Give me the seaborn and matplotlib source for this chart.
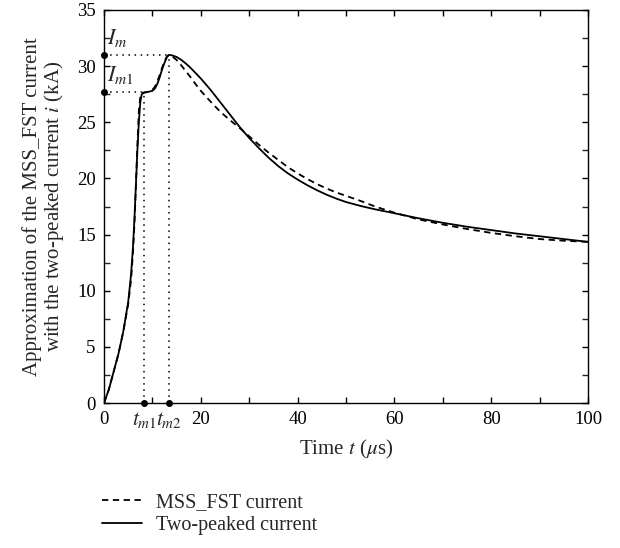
import numpy as np
import pandas as pd
import seaborn as sns
import matplotlib
matplotlib.use("Agg")
import matplotlib.pyplot as plt
from matplotlib.lines import Line2D

# ---- data ----
t_two = [0, 1, 2, 3, 4, 5, 5.6, 6.0, 6.3, 6.6, 6.9, 7.2, 7.5, 7.8, 8.3, 9.0, 10.0, 10.5,
         11.0, 11.5, 12.0, 12.5, 13.0, 13.4, 14, 15, 16, 17, 18, 19, 20, 21, 22, 23, 24,
         25, 26, 27, 28, 29, 30, 32, 34, 36, 38, 40, 42, 44, 46, 48, 50, 53, 56, 60, 65,
         70, 75, 80, 85, 90, 95, 100]
i_two = [0, 1.2, 2.8, 4.4, 6.4, 9.0, 11.5, 14.0, 16.5, 19.5, 22.5, 25.0, 26.8, 27.5, 27.65,
         27.7, 27.8, 28.0, 28.4, 29.0, 29.7, 30.3, 30.8, 31.0, 30.97, 30.82, 30.55, 30.2,
         29.8, 29.35, 28.9, 28.4, 27.9, 27.35, 26.8, 26.25, 25.7, 25.15, 24.6, 24.1, 23.6,
         22.7, 21.85, 21.1, 20.45, 19.9, 19.4, 18.95, 18.55, 18.2, 17.9, 17.55, 17.25,
         16.9, 16.45, 16.05, 15.7, 15.4, 15.1, 14.85, 14.6, 14.35]

t_mss = [0, 1, 2, 3, 4, 5, 5.6, 6.0, 6.3, 6.6, 6.9, 7.2, 7.5, 7.8, 8.3, 9.0, 10.0, 10.5,
         11.0, 11.5, 12.0, 12.5, 13.0, 13.4, 14, 15, 16, 17, 18, 19, 20, 22, 24, 26, 28,
         30, 32, 34, 36, 38, 40, 42, 44, 46, 48, 50, 53, 56, 60, 65, 70, 75, 80, 85, 90,
         95, 100]
i_mss = [0, 1.2, 2.8, 4.4, 6.4, 8.8, 11.0, 13.5, 16.0, 19.5, 23.0, 26.0, 27.3, 27.6, 27.65,
         27.7, 27.9, 28.15, 28.6, 29.2, 29.85, 30.45, 30.85, 31.0, 30.9, 30.55, 30.05,
         29.5, 28.95, 28.35, 27.8, 26.85, 25.95, 25.2, 24.5, 23.75, 23.0, 22.3, 21.65,
         21.0, 20.45, 19.95, 19.5, 19.1, 18.75, 18.45, 18.0, 17.5, 16.95, 16.35, 15.9,
         15.5, 15.15, 14.85, 14.6, 14.45, 14.35]

t_m1, t_m2 = 8.3, 13.4
I_m1, I_m = 27.7, 31.0

x_major = [0, 10, 20, 30, 40, 50, 60, 70, 80, 90, 100]
x_labels = ["0", "", "20", "", "40", "", "60", "", "80", "", "100"]
y_major = [0, 5, 10, 15, 20, 25, 30, 35]

df = pd.concat([
    pd.DataFrame({"t": t_mss, "i": i_mss, "series": "MSS_FST current"}),
    pd.DataFrame({"t": t_two, "i": i_two, "series": "Two-peaked current"}),
])

sns.set_style("ticks")
plt.rcParams["font.family"] = ["Liberation Serif", "DejaVu Serif"]
plt.rcParams["mathtext.fontset"] = "stix"
plt.rcParams["axes.linewidth"] = 1.0

fig = plt.figure(figsize=(6.2, 5.48), dpi=100)
ax = fig.add_axes([104 / 620, 1 - 403 / 548, (588 - 104) / 620, (403 - 10) / 548])

sns.lineplot(data=df, x="t", y="i", hue="series", style="series",
             palette={"MSS_FST current": "black", "Two-peaked current": "black"},
             dashes={"MSS_FST current": (3.5, 2.5), "Two-peaked current": ""},
             linewidth=1.3, legend=False, ax=ax, sort=False)

dot = dict(color="black", linestyle=(0, (1, 3)), linewidth=1.1)
ax.plot([0, t_m2], [I_m, I_m], **dot)
ax.plot([t_m2, t_m2], [0, I_m], **dot)
ax.plot([0, t_m1], [I_m1, I_m1], **dot)
ax.plot([t_m1, t_m1], [0, I_m1], **dot)
ax.plot([0, 0, t_m1, t_m2], [I_m, I_m1, 0, 0], "o", color="black", markersize=4,
        clip_on=False, zorder=5)

ax.text(0.6, 32.5, r"$I_m$", fontsize=16, ha="left", va="center")
ax.text(0.6, 29.2, r"$I_{m1}$", fontsize=16, ha="left", va="center")

ax.set_xlim(0, 100)
ax.set_ylim(0, 35)
ax.set_xticks(x_major)
ax.set_xticklabels(x_labels)
ax.set_xticks([t_m1, t_m2], [r"$t_{m1}$", r"$t_{m2}$"], minor=True)
ax.set_yticks(y_major)
ax.set_yticks(np.arange(2.5, 35, 5), minor=True)
ax.set_yticklabels([str(v) for v in y_major])

for s in ax.spines.values():
    s.set_visible(True)
    s.set_color("black")
ax.tick_params(which="major", direction="in", length=4, width=1, labelsize=13.5,
               top=True, right=True, pad=6, colors="black")
ax.tick_params(axis="y", which="minor", direction="in", length=4, width=1,
               left=True, right=True)
ax.tick_params(axis="x", which="minor", length=0, labelsize=15.5, pad=5)

ax.set_xlabel(r"Time $t$ ($\mu$s)", fontsize=15, labelpad=6)
ax.set_ylabel("Approximation of the MSS_FST current\nwith the two-peaked current $i$ (kA)",
              fontsize=15, labelpad=8, linespacing=1.0)

handles = [Line2D([], [], color="black", lw=1.3, linestyle=(0, (3.5, 2.5))),
           Line2D([], [], color="black", lw=1.3)]
fig.legend(handles, ["MSS_FST current", "Two-peaked current"], loc="upper left",
           bbox_to_anchor=(102 / 620, 1 - 493 / 548), frameon=False, fontsize=14.5,
           handlelength=2.0, handletextpad=0.7, labelspacing=0.2,
           borderpad=0, borderaxespad=0)

fig.savefig("out.png", dpi=100, facecolor="white")
